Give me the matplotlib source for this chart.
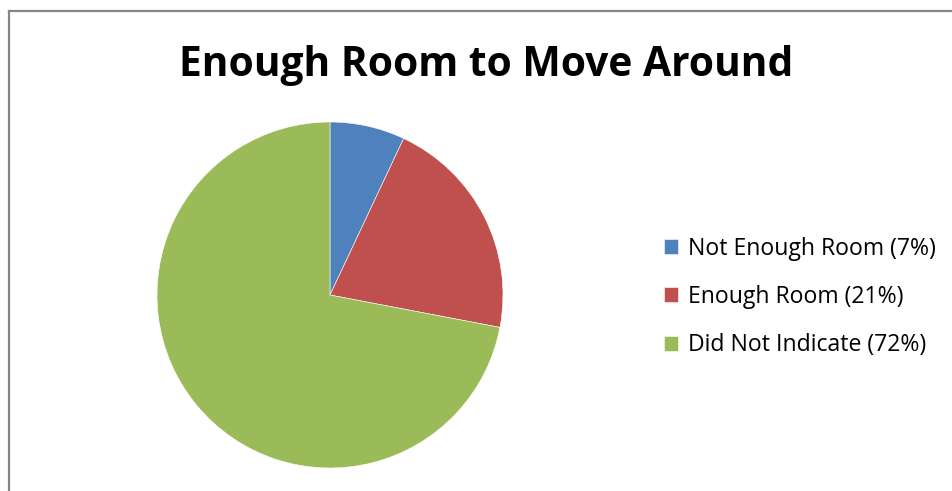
import matplotlib
matplotlib.use("Agg")
import matplotlib.pyplot as plt
from matplotlib.lines import Line2D

categories = ["Not Enough Room", "Enough Room", "Did Not Indicate"]
shares = [7, 21, 72]
colors = ["#4F81BD", "#C0504D", "#9BBB59"]
title = "Enough Room to Move Around"

W, H, DPI = 953, 491, 100
fig = plt.figure(figsize=(W / DPI, H / DPI), dpi=DPI)
fig.patch.set_facecolor("white")

# chart area border (left and top edges visible)
bx, by = 9 / W, 1 - 10.5 / H
fig.add_artist(Line2D([bx, bx], [-0.01, by], transform=fig.transFigure,
                      color="#868686", lw=1.6, solid_capstyle="projecting"))
fig.add_artist(Line2D([bx, 1.01], [by, by], transform=fig.transFigure,
                      color="#868686", lw=1.6, solid_capstyle="projecting"))

# pie axes: center (330, 295) px, radius 173 px
cx, cy, r = 330, 295, 173
ax = fig.add_axes([(cx - r) / W, 1 - (cy + r) / H, 2 * r / W, 2 * r / H])
wedges, _ = ax.pie(shares, colors=colors, startangle=90, counterclock=False,
                   radius=1.0, wedgeprops=dict(linewidth=0.4, edgecolor="white"))
ax.set_xlim(-1, 1)
ax.set_ylim(-1, 1)
ax.set_aspect("equal")
ax.axis("off")

fig.text(486 / W, 1 - 66 / H, title, ha="center", va="center",
         fontsize=29.3, fontweight="bold", family="Open Sans")

labels = [f"{c} ({s}%)" for c, s in zip(categories, shares)]
fig.legend(wedges, labels, loc="center left",
           bbox_to_anchor=(664 / W, 1 - 297 / H), frameon=False,
           prop=dict(family="Open Sans", size=16.6),
           handlelength=0.62, handleheight=0.62, handletextpad=0.4,
           labelspacing=1.05, borderaxespad=0, borderpad=0)

fig.savefig("out.png", dpi=DPI)
